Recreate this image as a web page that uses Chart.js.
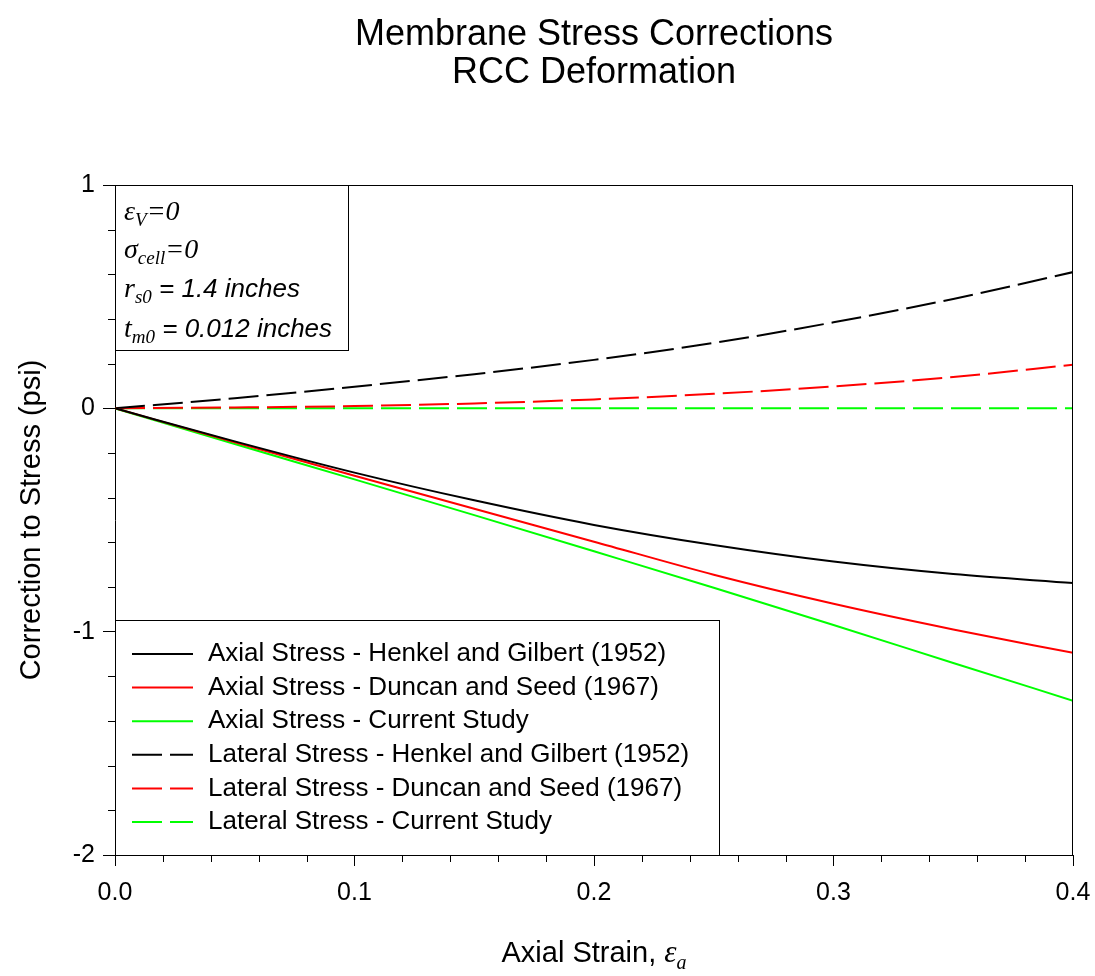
<!DOCTYPE html>
<html>
<head>
<meta charset="utf-8">
<script src="https://cdn.jsdelivr.net/npm/chart.js@4/dist/chart.umd.min.js"></script>
<style>html,body{margin:0;padding:0;background:#fff}</style>
</head>
<body>
<canvas id="chart" width="1095" height="976"></canvas>
<script>
// Daten
const strain = [0, 0.05, 0.1, 0.15, 0.2, 0.25, 0.3, 0.35, 0.4];
const axialHenkel  = [0, -0.148, -0.288, -0.412, -0.522, -0.612, -0.686, -0.742, -0.782];
const axialDuncan  = [0, -0.152, -0.302, -0.450, -0.597, -0.745, -0.875, -0.990, -1.095];
const axialCurrent = [0, -0.160, -0.318, -0.478, -0.640, -0.803, -0.970, -1.140, -1.309];
const latHenkel    = [0, 0.045, 0.097, 0.153, 0.217, 0.293, 0.385, 0.490, 0.610];
const latDuncan    = [0, 0.004, 0.010, 0.022, 0.040, 0.065, 0.098, 0.140, 0.195];
const latCurrent   = [0, 0, 0, 0, 0, 0, 0, 0, 0];

const seriesNames = [
  "Axial Stress - Henkel and Gilbert (1952)",
  "Axial Stress - Duncan and Seed (1967)",
  "Axial Stress - Current Study",
  "Lateral Stress - Henkel and Gilbert (1952)",
  "Lateral Stress - Duncan and Seed (1967)",
  "Lateral Stress - Current Study"
];
const xTickLabels = ["0.0", "0.1", "0.2", "0.3", "0.4"];
const yTickLabels = ["-2", "-1", "0", "1"];

const SANS = '"Liberation Sans", Arial, sans-serif';
const SERIF = '"Liberation Serif", "Times New Roman", serif';
const DASH = [30, 8];

function makeSet(label, values, color, dashed) {
  return {
    label: label,
    data: strain.map((x, i) => ({x: x, y: values[i]})),
    borderColor: color,
    borderWidth: 2,
    borderDash: dashed ? DASH : [],
    pointRadius: 0,
    cubicInterpolationMode: 'monotone',
    fill: false
  };
}

// Text mit Indizes zeichnen
function drawRich(ctx, parts, x, y) {
  parts.forEach(p => {
    ctx.font = p.font;
    ctx.fillText(p.t, x, y + (p.dy || 0));
    x += ctx.measureText(p.t).width;
  });
  return x;
}
function richWidth(ctx, parts) {
  let w = 0;
  parts.forEach(p => { ctx.font = p.font; w += ctx.measureText(p.t).width; });
  return w;
}

const extrasPlugin = {
  id: 'extras',
  afterDraw(chart) {
    const ctx = chart.ctx;
    const a = chart.chartArea;
    const xs = chart.scales.x, ys = chart.scales.y;
    ctx.save();
    ctx.strokeStyle = '#000';
    ctx.lineWidth = 1;

    // Rahmen oben und rechts
    ctx.beginPath();
    ctx.moveTo(a.left, Math.round(a.top) + 0.5);
    ctx.lineTo(a.right, Math.round(a.top) + 0.5);
    ctx.moveTo(Math.round(a.right) - 0.5, a.top);
    ctx.lineTo(Math.round(a.right) - 0.5, a.bottom);
    ctx.stroke();

    // kleine Ticks
    ctx.beginPath();
    for (let i = 1; i < 20; i++) {
      if (i % 5 === 0) continue;
      const px = Math.round(xs.getPixelForValue(i * 0.02)) + 0.5;
      ctx.moveTo(px, a.bottom);
      ctx.lineTo(px, a.bottom + 7);
    }
    for (let i = 1; i < 15; i++) {
      if (i % 5 === 0) continue;
      const py = Math.round(ys.getPixelForValue(-2 + i * 0.2)) + 0.5;
      ctx.moveTo(a.left, py);
      ctx.lineTo(a.left - 7, py);
    }
    ctx.stroke();

    ctx.fillStyle = '#000';
    ctx.textBaseline = 'alphabetic';

    // Titel
    ctx.textAlign = 'center';
    ctx.font = '36px ' + SANS;
    const cx = (a.left + a.right) / 2;
    ctx.fillText("Membrane Stress Corrections", cx, 45);
    ctx.fillText("RCC Deformation", cx, 83);

    // y-Achsentitel
    ctx.save();
    ctx.translate(40, (a.top + a.bottom) / 2);
    ctx.rotate(-Math.PI / 2);
    ctx.font = '29px ' + SANS;
    ctx.fillText("Correction to Stress (psi)", 0, 0);
    ctx.restore();

    // x-Achsentitel
    ctx.textAlign = 'left';
    const xt = [
      {t: "Axial Strain, ", font: '29px ' + SANS},
      {t: "\u03b5", font: 'italic 31px ' + SERIF},
      {t: "a", font: 'italic 20px ' + SERIF, dy: 7}
    ];
    drawRich(ctx, xt, cx - richWidth(ctx, xt) / 2, 962);

    // Infobox oben links
    ctx.fillStyle = '#fff';
    ctx.fillRect(a.left, a.top, 233, 165);
    ctx.strokeRect(a.left + 0.5, a.top + 0.5, 233, 165);
    ctx.fillStyle = '#000';
    const big = 'italic 28px ' + SERIF, sub = 'italic 19px ' + SERIF, sans = 'italic 26px ' + SANS;
    drawRich(ctx, [{t: "\u03b5", font: big}, {t: "V", font: sub, dy: 6}, {t: "=0", font: big}], 124, 220);
    drawRich(ctx, [{t: "\u03c3", font: big}, {t: "cell", font: sub, dy: 6}, {t: "=0", font: big}], 124, 258);
    drawRich(ctx, [{t: "r", font: big}, {t: "s0", font: sub, dy: 6}, {t: " = 1.4 inches", font: sans}], 124, 297);
    drawRich(ctx, [{t: "t", font: big}, {t: "m0", font: sub, dy: 6}, {t: " = 0.012 inches", font: sans}], 124, 337);

    // Legende unten links
    const lx = a.left, ly = 620, lw = 604, lh = a.bottom - 620;
    ctx.fillStyle = '#fff';
    ctx.fillRect(lx, ly, lw, lh);
    ctx.strokeRect(lx + 0.5, ly + 0.5, lw, lh);
    ctx.font = '26px ' + SANS;
    chart.data.datasets.forEach((ds, i) => {
      const yy = 654 + i * 33.6;
      ctx.beginPath();
      ctx.strokeStyle = ds.borderColor;
      ctx.lineWidth = 2;
      ctx.setLineDash(ds.borderDash);
      ctx.moveTo(132, yy);
      ctx.lineTo(193, yy);
      ctx.stroke();
      ctx.setLineDash([]);
      ctx.fillStyle = '#000';
      ctx.textBaseline = 'middle';
      ctx.fillText(ds.label, 208, yy);
    });
    ctx.restore();
  }
};

const ctx = document.getElementById('chart').getContext('2d');
const chart = new Chart(ctx, {
  type: 'line',
  data: {
    datasets: [
      makeSet(seriesNames[0], axialHenkel, '#000000', false),
      makeSet(seriesNames[1], axialDuncan, '#ff0000', false),
      makeSet(seriesNames[2], axialCurrent, '#00ff00', false),
      makeSet(seriesNames[3], latHenkel, '#000000', true),
      makeSet(seriesNames[4], latDuncan, '#ff0000', true),
      makeSet(seriesNames[5], latCurrent, '#00ff00', true)
    ]
  },
  options: {
    responsive: false,
    devicePixelRatio: 1,
    animation: false,
    layout: {padding: {left: 0, top: 185, right: 22, bottom: 0}},
    plugins: {legend: {display: false}, title: {display: false}, tooltip: {enabled: false}},
    scales: {
      x: {
        type: 'linear',
        min: 0, max: 0.4,
        grid: {drawOnChartArea: false, drawTicks: true, tickLength: 11, color: '#000'},
        border: {display: true, color: '#000', width: 1},
        ticks: {
          stepSize: 0.1,
          padding: 12,
          color: '#000',
          font: {family: SANS, size: 25},
          maxRotation: 0,
          callback: (v) => xTickLabels[Math.round(v * 10)]
        },
        afterFit: (scale) => {
          scale.height = 121;
          scale.paddingLeft = 0;
          scale.paddingRight = 0;
        }
      },
      y: {
        type: 'linear',
        min: -2, max: 1,
        grid: {drawOnChartArea: false, drawTicks: true, tickLength: 12, color: '#000'},
        border: {display: true, color: '#000', width: 1},
        ticks: {
          stepSize: 1,
          padding: 8,
          color: '#000',
          font: {family: SANS, size: 25},
          callback: (v) => yTickLabels[Math.round(v) + 2]
        },
        afterFit: (scale) => { scale.width = 115; }
      }
    }
  },
  plugins: [extrasPlugin]
});
</script>
</body>
</html>
